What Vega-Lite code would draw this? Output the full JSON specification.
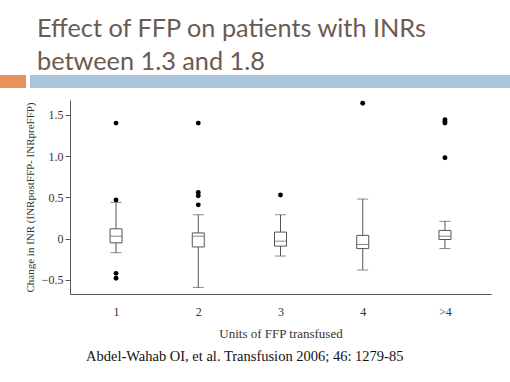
{
  "$schema": "https://vega.github.io/schema/vega-lite/v6.json",
  "padding": {"top": 16, "left": 0, "right": 0, "bottom": 0},
  "background": "white",
  "title": {
    "text": ["Effect of FFP on patients with INRs", "between 1.3 and 1.8"],
    "anchor": "start",
    "frame": "bounds",
    "dx": 37,
    "dy": 4,
    "font": "Lato",
    "fontSize": 25.3,
    "fontWeight": "normal",
    "color": "#6b5b53",
    "lineHeight": 33,
    "offset": 4
  },
  "spacing": 12,
  "datasets": {
    "boxes": [
      {"units": "1", "lower": -0.17, "q1": -0.05, "median": 0.03, "q3": 0.12, "upper": 0.44},
      {"units": "2", "lower": -0.59, "q1": -0.10, "median": 0.03, "q3": 0.07, "upper": 0.29},
      {"units": "3", "lower": -0.21, "q1": -0.09, "median": -0.03, "q3": 0.08, "upper": 0.29},
      {"units": "4", "lower": -0.38, "q1": -0.12, "median": -0.07, "q3": 0.04, "upper": 0.48},
      {"units": ">4", "lower": -0.12, "q1": -0.01, "median": 0.03, "q3": 0.10, "upper": 0.21}
    ],
    "outliers": [
      {"units": "1", "value": 1.40},
      {"units": "1", "value": 0.47},
      {"units": "1", "value": -0.42},
      {"units": "1", "value": -0.48},
      {"units": "2", "value": 1.40},
      {"units": "2", "value": 0.56},
      {"units": "2", "value": 0.52},
      {"units": "2", "value": 0.41},
      {"units": "3", "value": 0.53},
      {"units": "4", "value": 1.64},
      {"units": ">4", "value": 1.44},
      {"units": ">4", "value": 1.42},
      {"units": ">4", "value": 1.40},
      {"units": ">4", "value": 0.98}
    ]
  },
  "vconcat": [
    {
      "hconcat": [
        {
          "width": 26,
          "height": 13,
          "data": {"values": []},
          "mark": {"type": "point"},
          "view": {"fill": "#e8925a", "stroke": null}
        },
        {
          "width": 480,
          "height": 13,
          "data": {"values": []},
          "mark": {"type": "point"},
          "view": {"fill": "#a8c5dd", "stroke": null}
        }
      ],
      "spacing": 4
    },
    {
      "spacing": 4,
      "hconcat": [
        {
          "width": 20,
          "height": 194,
          "data": {"values": []},
          "mark": {"type": "point"},
          "view": {"stroke": null}
        },
        {
          "width": 421,
          "height": 194,
          "view": {"stroke": null},
          "title": {
            "text": "Abdel-Wahab OI, et al.  Transfusion 2006; 46: 1279-85",
            "orient": "bottom",
            "anchor": "start",
            "frame": "group",
            "dx": 16,
            "offset": 10,
            "font": "Liberation Serif",
            "fontSize": 14.5,
            "fontWeight": "normal",
            "color": "#111111"
          },
          "encoding": {
            "x": {
              "field": "units",
              "type": "ordinal",
              "scale": {"type": "point", "domain": ["1", "2", "3", "4", ">4"], "padding": 0.56},
              "axis": {
                "title": "Units of FFP transfused",
                "labelAngle": 0,
                "ticks": false,
                "labelPadding": 12,
                "titlePadding": 10,
                "labelFont": "Liberation Serif",
                "labelFontSize": 12,
                "labelColor": "#333333",
                "titleFont": "Liberation Serif",
                "titleFontSize": 13,
                "titleFontWeight": "normal",
                "titleColor": "#333333",
                "domainColor": "#555555",
                "grid": false
              }
            }
          },
          "layer": [
            {
              "data": {"name": "boxes"},
              "mark": {"type": "rule", "color": "#555555", "strokeWidth": 1},
              "encoding": {
                "y": {
                  "field": "lower",
                  "type": "quantitative",
                  "scale": {"domain": [-0.67, 1.68], "nice": false, "zero": false},
                  "axis": {
                    "title": "Change in INR (INRpostFFP- INRpreFFP)",
                    "values": [-0.5, 0, 0.5, 1.0, 1.5],
                    "labelExpr": "datum.value == 0 ? '0' : format(datum.value, '.1f')",
                    "grid": false,
                    "tickSize": 5,
                    "tickColor": "#555555",
                    "domainColor": "#555555",
                    "labelFont": "Liberation Serif",
                    "labelFontSize": 12,
                    "labelColor": "#333333",
                    "labelPadding": 2,
                    "titleFont": "Liberation Serif",
                    "titleFontSize": 11,
                    "titleFontWeight": "normal",
                    "titleColor": "#333333",
                    "titlePadding": 6
                  }
                },
                "y2": {"field": "upper"}
              }
            },
            {
              "data": {"name": "boxes"},
              "mark": {"type": "tick", "color": "#555555", "size": 11, "thickness": 1},
              "encoding": {"y": {"field": "lower", "type": "quantitative"}}
            },
            {
              "data": {"name": "boxes"},
              "mark": {"type": "tick", "color": "#555555", "size": 11, "thickness": 1},
              "encoding": {"y": {"field": "upper", "type": "quantitative"}}
            },
            {
              "data": {"name": "boxes"},
              "mark": {"type": "bar", "fill": "white", "stroke": "#555555", "strokeWidth": 1, "size": 12},
              "encoding": {
                "y": {"field": "q1", "type": "quantitative"},
                "y2": {"field": "q3"}
              }
            },
            {
              "data": {"name": "boxes"},
              "mark": {"type": "tick", "color": "#555555", "size": 12, "thickness": 1},
              "encoding": {"y": {"field": "median", "type": "quantitative"}}
            },
            {
              "data": {"name": "outliers"},
              "mark": {"type": "circle", "color": "#000000", "opacity": 1, "size": 24},
              "encoding": {"y": {"field": "value", "type": "quantitative"}}
            }
          ]
        }
      ]
    }
  ]
}
